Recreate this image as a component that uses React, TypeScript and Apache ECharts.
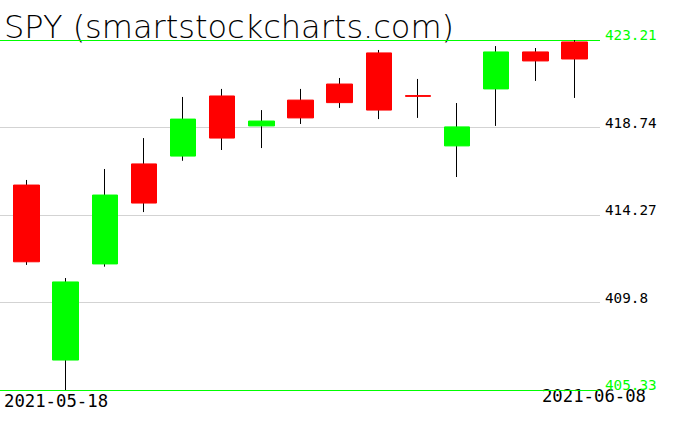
import React, { useEffect, useRef } from "react";
import * as echarts from "echarts";

const dates = [
  "2021-05-18", "2021-05-19", "2021-05-20", "2021-05-21", "2021-05-24",
  "2021-05-25", "2021-05-26", "2021-05-27", "2021-05-28", "2021-06-01",
  "2021-06-02", "2021-06-03", "2021-06-04", "2021-06-07", "2021-06-08",
];
const opens = [415.8, 406.86, 411.77, 416.88, 417.28, 420.35, 418.82, 420.14, 420.96, 422.55, 420.37, 417.8, 420.71, 422.6, 423.11];
const closes = [411.88, 410.85, 415.29, 414.88, 419.17, 418.2, 419.07, 419.23, 420.01, 419.63, 420.33, 418.77, 422.6, 422.14, 422.24];
const lows = [411.72, 405.33, 411.63, 414.42, 417.04, 417.59, 417.69, 418.92, 419.74, 419.17, 419.23, 416.21, 418.82, 421.12, 420.25];
const highs = [416.06, 411.05, 416.62, 418.2, 420.3, 420.71, 419.63, 420.71, 421.27, 422.7, 421.22, 419.99, 422.9, 422.8, 423.21];

const titleText = "SPY (smartstockcharts.com)";
const dateLabels = [dates[0], dates[dates.length - 1]];

const UP = "#00ff00";
const DOWN = "#ff0000";
const GRID_GRAY = "#d3d3d3";

export default function App() {
  const ref = useRef<HTMLDivElement>(null);

  useEffect(() => {
    if (!ref.current) return;
    const chart = echarts.init(ref.current, null, { renderer: "svg" });

    const yMin = Math.min(...lows);
    const yMax = Math.max(...highs);
    const interval = Math.round(((yMax - yMin) / 4) * 100) / 100;

    const wickData = dates.map((_, i) => [opens[i], closes[i], lows[i], highs[i]]);
    const bodyData = dates.map((_, i) => [
      opens[i],
      closes[i],
      Math.min(opens[i], closes[i]),
      Math.max(opens[i], closes[i]),
    ]);

    const monoFont = "DejaVu Sans Mono";

    chart.setOption({
      animation: false,
      backgroundColor: "#ffffff",
      grid: [
        { left: 0, right: 76, top: 40, bottom: 41 },
        { left: 6.93, right: 81.93, top: 40, bottom: 41 },
      ],
      xAxis: [
        { type: "value", gridIndex: 0, show: false, min: 0, max: 1 },
        {
          type: "category",
          gridIndex: 1,
          data: dates,
          boundaryGap: true,
          show: false,
        },
      ],
      yAxis: [
        {
          type: "value",
          gridIndex: 0,
          position: "right",
          min: yMin,
          max: yMax,
          interval: interval,
          axisLine: { show: false },
          axisTick: { show: false },
          splitLine: {
            show: true,
            lineStyle: {
              color: [UP, GRID_GRAY, GRID_GRAY, GRID_GRAY, UP],
              width: 1,
            },
          },
          axisLabel: {
            margin: 5,
            fontFamily: monoFont,
            fontSize: 14.3,
            verticalAlign: "bottom",
            lineHeight: 10,
            formatter: (v: number) => String(Math.round(v * 100) / 100),
            color: (v: any) => {
              const n = Number(v);
              return Math.abs(n - yMin) < 1e-6 || Math.abs(n - yMax) < 1e-6 ? UP : "#000000";
            },
          },
        },
        {
          type: "value",
          gridIndex: 1,
          min: yMin,
          max: yMax,
          show: false,
          splitLine: { show: false },
        },
      ],
      series: [
        {
          type: "candlestick",
          name: "wick",
          xAxisIndex: 1,
          yAxisIndex: 1,
          data: wickData,
          barWidth: 1,
          silent: true,
          itemStyle: {
            color: "#000000",
            color0: "#000000",
            borderColor: "#000000",
            borderColor0: "#000000",
            borderWidth: 1,
          },
        },
        {
          type: "candlestick",
          name: "body",
          xAxisIndex: 1,
          yAxisIndex: 1,
          data: bodyData,
          barWidth: 26,
          silent: true,
          itemStyle: {
            color: UP,
            color0: DOWN,
            borderColor: UP,
            borderColor0: DOWN,
            borderWidth: 1,
          },
        },
      ],
      graphic: [
        {
          type: "text",
          x: 4,
          y: 26.5,
          silent: true,
          style: {
            text: titleText,
            fontFamily: "DejaVu Sans",
            fontWeight: 200,
            fontSize: 32,
            fill: "#000000",
            textAlign: "left",
            textVerticalAlign: "middle",
          },
        },
        {
          type: "text",
          x: 4,
          y: 400.5,
          silent: true,
          style: {
            text: dateLabels[0],
            fontFamily: monoFont,
            fontSize: 17.3,
            fill: "#000000",
            textAlign: "left",
            textVerticalAlign: "middle",
          },
        },
        {
          type: "text",
          x: 646,
          y: 396,
          silent: true,
          style: {
            text: dateLabels[1],
            fontFamily: monoFont,
            fontSize: 17.3,
            fill: "#000000",
            textAlign: "right",
            textVerticalAlign: "middle",
          },
        },
      ],
    });

    return () => {
      chart.dispose();
    };
  }, []);

  return (
    <div
      ref={ref}
      style={{ position: "fixed", left: 0, top: 0, width: 676, height: 431, background: "#fff" }}
    />
  );
}
